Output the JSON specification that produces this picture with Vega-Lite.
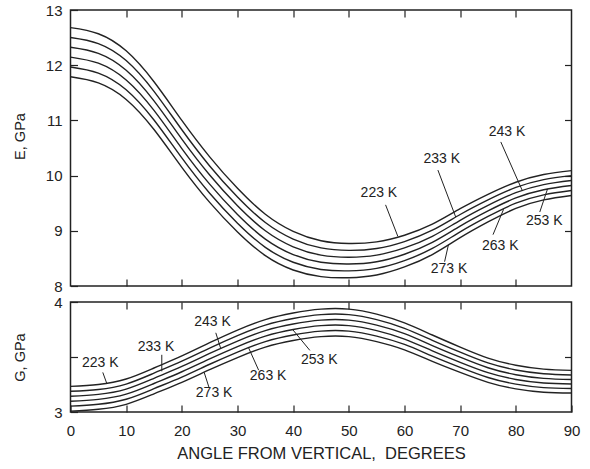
{
  "$schema": "https://vega.github.io/schema/vega-lite/v6.json",
  "padding": {"left": 10.5, "top": 2, "right": 0, "bottom": 0},
  "bounds": "flush",
  "spacing": 16,
  "background": "white",
  "config": {
    "font": "Liberation Sans",
    "view": {"stroke": "#222", "strokeWidth": 1.5},
    "axis": {
      "domain": false, "grid": false, "ticks": true, "tickSize": -7, "tickColor": "#222", "tickWidth": 1.2,
      "labelFont": "Liberation Sans", "labelFontSize": 15, "labelColor": "#222", "labelPadding": 15.5, "labelFlush": false,
      "titleFont": "Liberation Sans", "titleFontSize": 14.5, "titleFontWeight": "normal", "titleColor": "#222"
    }
  },
  "datasets": {
    "E": [
      {"a":0,"T":"223 K","v":12.68},{"a":5,"T":"223 K","v":12.57},{"a":10,"T":"223 K","v":12.26},{"a":15,"T":"223 K","v":11.70},{"a":20,"T":"223 K","v":11.00},{"a":25,"T":"223 K","v":10.34},{"a":30,"T":"223 K","v":9.77},{"a":35,"T":"223 K","v":9.30},{"a":40,"T":"223 K","v":8.99},{"a":45,"T":"223 K","v":8.82},{"a":50,"T":"223 K","v":8.77},{"a":55,"T":"223 K","v":8.80},{"a":60,"T":"223 K","v":8.92},{"a":65,"T":"223 K","v":9.12},{"a":70,"T":"223 K","v":9.40},{"a":75,"T":"223 K","v":9.66},{"a":80,"T":"223 K","v":9.88},{"a":85,"T":"223 K","v":10.02},{"a":90,"T":"223 K","v":10.09},
      {"a":0,"T":"233 K","v":12.502},{"a":5,"T":"233 K","v":12.392},{"a":10,"T":"233 K","v":12.084},{"a":15,"T":"233 K","v":11.527},{"a":20,"T":"233 K","v":10.83},{"a":25,"T":"233 K","v":10.175},{"a":30,"T":"233 K","v":9.612},{"a":35,"T":"233 K","v":9.15},{"a":40,"T":"233 K","v":8.85},{"a":45,"T":"233 K","v":8.69},{"a":50,"T":"233 K","v":8.646},{"a":55,"T":"233 K","v":8.68},{"a":60,"T":"233 K","v":8.805},{"a":65,"T":"233 K","v":9.01},{"a":70,"T":"233 K","v":9.295},{"a":75,"T":"233 K","v":9.56},{"a":80,"T":"233 K","v":9.785},{"a":85,"T":"233 K","v":9.928},{"a":90,"T":"233 K","v":10.0},
      {"a":0,"T":"243 K","v":12.324},{"a":5,"T":"243 K","v":12.214},{"a":10,"T":"243 K","v":11.908},{"a":15,"T":"243 K","v":11.354},{"a":20,"T":"243 K","v":10.66},{"a":25,"T":"243 K","v":10.01},{"a":30,"T":"243 K","v":9.454},{"a":35,"T":"243 K","v":9.0},{"a":40,"T":"243 K","v":8.71},{"a":45,"T":"243 K","v":8.56},{"a":50,"T":"243 K","v":8.522},{"a":55,"T":"243 K","v":8.56},{"a":60,"T":"243 K","v":8.69},{"a":65,"T":"243 K","v":8.90},{"a":70,"T":"243 K","v":9.19},{"a":75,"T":"243 K","v":9.46},{"a":80,"T":"243 K","v":9.69},{"a":85,"T":"243 K","v":9.836},{"a":90,"T":"243 K","v":9.91},
      {"a":0,"T":"253 K","v":12.146},{"a":5,"T":"253 K","v":12.036},{"a":10,"T":"253 K","v":11.732},{"a":15,"T":"253 K","v":11.181},{"a":20,"T":"253 K","v":10.49},{"a":25,"T":"253 K","v":9.845},{"a":30,"T":"253 K","v":9.296},{"a":35,"T":"253 K","v":8.85},{"a":40,"T":"253 K","v":8.57},{"a":45,"T":"253 K","v":8.43},{"a":50,"T":"253 K","v":8.398},{"a":55,"T":"253 K","v":8.44},{"a":60,"T":"253 K","v":8.575},{"a":65,"T":"253 K","v":8.79},{"a":70,"T":"253 K","v":9.085},{"a":75,"T":"253 K","v":9.36},{"a":80,"T":"253 K","v":9.595},{"a":85,"T":"253 K","v":9.744},{"a":90,"T":"253 K","v":9.82},
      {"a":0,"T":"263 K","v":11.968},{"a":5,"T":"263 K","v":11.858},{"a":10,"T":"263 K","v":11.556},{"a":15,"T":"263 K","v":11.008},{"a":20,"T":"263 K","v":10.32},{"a":25,"T":"263 K","v":9.68},{"a":30,"T":"263 K","v":9.138},{"a":35,"T":"263 K","v":8.70},{"a":40,"T":"263 K","v":8.43},{"a":45,"T":"263 K","v":8.30},{"a":50,"T":"263 K","v":8.274},{"a":55,"T":"263 K","v":8.32},{"a":60,"T":"263 K","v":8.46},{"a":65,"T":"263 K","v":8.68},{"a":70,"T":"263 K","v":8.98},{"a":75,"T":"263 K","v":9.26},{"a":80,"T":"263 K","v":9.50},{"a":85,"T":"263 K","v":9.652},{"a":90,"T":"263 K","v":9.73},
      {"a":0,"T":"273 K","v":11.79},{"a":5,"T":"273 K","v":11.68},{"a":10,"T":"273 K","v":11.38},{"a":15,"T":"273 K","v":10.835},{"a":20,"T":"273 K","v":10.15},{"a":25,"T":"273 K","v":9.515},{"a":30,"T":"273 K","v":8.98},{"a":35,"T":"273 K","v":8.55},{"a":40,"T":"273 K","v":8.29},{"a":45,"T":"273 K","v":8.17},{"a":50,"T":"273 K","v":8.15},{"a":55,"T":"273 K","v":8.20},{"a":60,"T":"273 K","v":8.345},{"a":65,"T":"273 K","v":8.57},{"a":70,"T":"273 K","v":8.875},{"a":75,"T":"273 K","v":9.16},{"a":80,"T":"273 K","v":9.405},{"a":85,"T":"273 K","v":9.56},{"a":90,"T":"273 K","v":9.64}
    ],
    "G": [
      {"a":0,"T":"223 K","v":3.233},{"a":5,"T":"223 K","v":3.25},{"a":10,"T":"223 K","v":3.30},{"a":15,"T":"223 K","v":3.40},{"a":20,"T":"223 K","v":3.51},{"a":25,"T":"223 K","v":3.63},{"a":30,"T":"223 K","v":3.745},{"a":35,"T":"223 K","v":3.84},{"a":40,"T":"223 K","v":3.90},{"a":45,"T":"223 K","v":3.935},{"a":50,"T":"223 K","v":3.935},{"a":55,"T":"223 K","v":3.89},{"a":60,"T":"223 K","v":3.81},{"a":65,"T":"223 K","v":3.70},{"a":70,"T":"223 K","v":3.59},{"a":75,"T":"223 K","v":3.49},{"a":80,"T":"223 K","v":3.425},{"a":85,"T":"223 K","v":3.39},{"a":90,"T":"223 K","v":3.378},
      {"a":0,"T":"233 K","v":3.188},{"a":5,"T":"233 K","v":3.205},{"a":10,"T":"233 K","v":3.254},{"a":15,"T":"233 K","v":3.353},{"a":20,"T":"233 K","v":3.462},{"a":25,"T":"233 K","v":3.581},{"a":30,"T":"233 K","v":3.695},{"a":35,"T":"233 K","v":3.79},{"a":40,"T":"233 K","v":3.85},{"a":45,"T":"233 K","v":3.885},{"a":50,"T":"233 K","v":3.885},{"a":55,"T":"233 K","v":3.84},{"a":60,"T":"233 K","v":3.761},{"a":65,"T":"233 K","v":3.652},{"a":70,"T":"233 K","v":3.544},{"a":75,"T":"233 K","v":3.446},{"a":80,"T":"233 K","v":3.382},{"a":85,"T":"233 K","v":3.348},{"a":90,"T":"233 K","v":3.337},
      {"a":0,"T":"243 K","v":3.143},{"a":5,"T":"243 K","v":3.16},{"a":10,"T":"243 K","v":3.208},{"a":15,"T":"243 K","v":3.306},{"a":20,"T":"243 K","v":3.414},{"a":25,"T":"243 K","v":3.532},{"a":30,"T":"243 K","v":3.645},{"a":35,"T":"243 K","v":3.74},{"a":40,"T":"243 K","v":3.80},{"a":45,"T":"243 K","v":3.835},{"a":50,"T":"243 K","v":3.835},{"a":55,"T":"243 K","v":3.79},{"a":60,"T":"243 K","v":3.712},{"a":65,"T":"243 K","v":3.604},{"a":70,"T":"243 K","v":3.498},{"a":75,"T":"243 K","v":3.402},{"a":80,"T":"243 K","v":3.339},{"a":85,"T":"243 K","v":3.306},{"a":90,"T":"243 K","v":3.296},
      {"a":0,"T":"253 K","v":3.098},{"a":5,"T":"253 K","v":3.115},{"a":10,"T":"253 K","v":3.162},{"a":15,"T":"253 K","v":3.259},{"a":20,"T":"253 K","v":3.366},{"a":25,"T":"253 K","v":3.483},{"a":30,"T":"253 K","v":3.595},{"a":35,"T":"253 K","v":3.69},{"a":40,"T":"253 K","v":3.75},{"a":45,"T":"253 K","v":3.785},{"a":50,"T":"253 K","v":3.785},{"a":55,"T":"253 K","v":3.74},{"a":60,"T":"253 K","v":3.663},{"a":65,"T":"253 K","v":3.556},{"a":70,"T":"253 K","v":3.452},{"a":75,"T":"253 K","v":3.358},{"a":80,"T":"253 K","v":3.296},{"a":85,"T":"253 K","v":3.264},{"a":90,"T":"253 K","v":3.255},
      {"a":0,"T":"263 K","v":3.053},{"a":5,"T":"263 K","v":3.07},{"a":10,"T":"263 K","v":3.116},{"a":15,"T":"263 K","v":3.212},{"a":20,"T":"263 K","v":3.318},{"a":25,"T":"263 K","v":3.434},{"a":30,"T":"263 K","v":3.545},{"a":35,"T":"263 K","v":3.64},{"a":40,"T":"263 K","v":3.70},{"a":45,"T":"263 K","v":3.735},{"a":50,"T":"263 K","v":3.735},{"a":55,"T":"263 K","v":3.69},{"a":60,"T":"263 K","v":3.614},{"a":65,"T":"263 K","v":3.508},{"a":70,"T":"263 K","v":3.406},{"a":75,"T":"263 K","v":3.314},{"a":80,"T":"263 K","v":3.253},{"a":85,"T":"263 K","v":3.222},{"a":90,"T":"263 K","v":3.214},
      {"a":0,"T":"273 K","v":3.008},{"a":5,"T":"273 K","v":3.025},{"a":10,"T":"273 K","v":3.07},{"a":15,"T":"273 K","v":3.165},{"a":20,"T":"273 K","v":3.27},{"a":25,"T":"273 K","v":3.385},{"a":30,"T":"273 K","v":3.495},{"a":35,"T":"273 K","v":3.59},{"a":40,"T":"273 K","v":3.65},{"a":45,"T":"273 K","v":3.685},{"a":50,"T":"273 K","v":3.685},{"a":55,"T":"273 K","v":3.64},{"a":60,"T":"273 K","v":3.565},{"a":65,"T":"273 K","v":3.46},{"a":70,"T":"273 K","v":3.36},{"a":75,"T":"273 K","v":3.27},{"a":80,"T":"273 K","v":3.21},{"a":85,"T":"273 K","v":3.18},{"a":90,"T":"273 K","v":3.173}
    ],
    "Elab": [
      {"a":55.4,"v":9.69,"t":"223 K"},{"a":66.7,"v":10.30,"t":"233 K"},{"a":78.4,"v":10.79,"t":"243 K"},
      {"a":85.1,"v":9.17,"t":"253 K"},{"a":77.2,"v":8.73,"t":"263 K"},{"a":68.0,"v":8.30,"t":"273 K"}
    ],
    "Elead": [
      {"a":56.6,"v":9.47,"a2":58.8,"v2":8.90},{"a":66.0,"v":10.10,"a2":69.2,"v2":9.25},{"a":77.3,"v":10.61,"a2":81.2,"v2":9.72},
      {"a":84.3,"v":9.34,"a2":85.7,"v2":9.76},{"a":75.9,"v":8.93,"a2":77.8,"v2":9.39},{"a":67.2,"v":8.44,"a2":67.9,"v2":8.75}
    ],
    "Glab": [
      {"a":5.35,"v":3.444,"t":"223 K"},{"a":15.35,"v":3.589,"t":"233 K"},{"a":25.5,"v":3.82,"t":"243 K"},
      {"a":44.7,"v":3.475,"t":"253 K"},{"a":35.5,"v":3.33,"t":"263 K"},{"a":25.8,"v":3.175,"t":"273 K"}
    ],
    "Glead": [
      {"a":5.8,"v":3.36,"a2":6.5,"v2":3.262},{"a":16.4,"v":3.52,"a2":16.4,"v2":3.37},{"a":26.1,"v":3.72,"a2":27.0,"v2":3.575},
      {"a":43.0,"v":3.56,"a2":39.9,"v2":3.75},{"a":33.8,"v":3.38,"a2":32.0,"v2":3.583},{"a":24.9,"v":3.22,"a2":24.0,"v2":3.362}
    ]
  },
  "vconcat": [
    {
      "width": 501, "height": 276,
      "layer": [
        {
          "data": {"name": "E"},
          "mark": {"type": "line", "interpolate": "natural", "color": "#222", "strokeWidth": 1.4},
          "encoding": {
            "x": {"field": "a", "type": "quantitative", "scale": {"domain": [0, 90], "nice": false},
                  "axis": {"orient": "bottom", "values": [10,20,30,40,50,60,70,80], "labels": false, "title": null}},
            "y": {"field": "v", "type": "quantitative", "scale": {"domain": [8, 13], "nice": false, "zero": false},
                  "axis": {"orient": "left", "values": [8,9,10,11,12,13], "title": "E, GPa", "titleX": -43.5, "titleY": 126}},
            "detail": {"field": "T"}
          }
        },
        {
          "data": {"name": "Elead"},
          "mark": {"type": "rule", "color": "#222", "strokeWidth": 1},
          "encoding": {
            "x": {"field": "a", "type": "quantitative", "axis": {"orient": "top", "values": [10,20,30,40,50,60,70,80], "labels": false, "title": null}},
            "y": {"field": "v", "type": "quantitative", "axis": {"orient": "right", "values": [9,10,11,12], "labels": false, "title": null}},
            "x2": {"field": "a2"},
            "y2": {"field": "v2"}
          }
        },
        {
          "data": {"name": "Elab"},
          "mark": {"type": "text", "font": "Liberation Sans", "fontSize": 14, "color": "#222"},
          "encoding": {
            "x": {"field": "a", "type": "quantitative", "axis": null},
            "y": {"field": "v", "type": "quantitative", "axis": null},
            "text": {"field": "t"}
          }
        }
      ],
      "resolve": {"axis": {"x": "independent", "y": "independent"}}
    },
    {
      "width": 501, "height": 110,
      "layer": [
        {
          "data": {"name": "G"},
          "mark": {"type": "line", "interpolate": "natural", "color": "#222", "strokeWidth": 1.4},
          "encoding": {
            "x": {"field": "a", "type": "quantitative", "scale": {"domain": [0, 90], "nice": false},
                  "axis": {"orient": "bottom", "values": [0,10,20,30,40,50,60,70,80,90], "title": "ANGLE FROM VERTICAL,\u00a0 DEGREES", "titleFontSize": 16.5, "labelPadding": 18, "titlePadding": 7}},
            "y": {"field": "v", "type": "quantitative", "scale": {"domain": [3, 4], "nice": false, "zero": false},
                  "axis": {"orient": "left", "values": [3, 3.5, 4], "labelExpr": "datum.value == 3.5 ? '' : format(datum.value, '.0f')", "title": "G, GPa", "titleX": -43.5, "titleY": 55}},
            "detail": {"field": "T"}
          }
        },
        {
          "data": {"name": "Glead"},
          "mark": {"type": "rule", "color": "#222", "strokeWidth": 1},
          "encoding": {
            "x": {"field": "a", "type": "quantitative", "axis": {"orient": "top", "values": [10,20,30,40,50,60,70,80], "labels": false, "title": null}},
            "y": {"field": "v", "type": "quantitative", "axis": {"orient": "right", "values": [3.5], "labels": false, "title": null}},
            "x2": {"field": "a2"},
            "y2": {"field": "v2"}
          }
        },
        {
          "data": {"name": "Glab"},
          "mark": {"type": "text", "font": "Liberation Sans", "fontSize": 14, "color": "#222"},
          "encoding": {
            "x": {"field": "a", "type": "quantitative", "axis": null},
            "y": {"field": "v", "type": "quantitative", "axis": null},
            "text": {"field": "t"}
          }
        }
      ],
      "resolve": {"axis": {"x": "independent", "y": "independent"}}
    }
  ]
}
